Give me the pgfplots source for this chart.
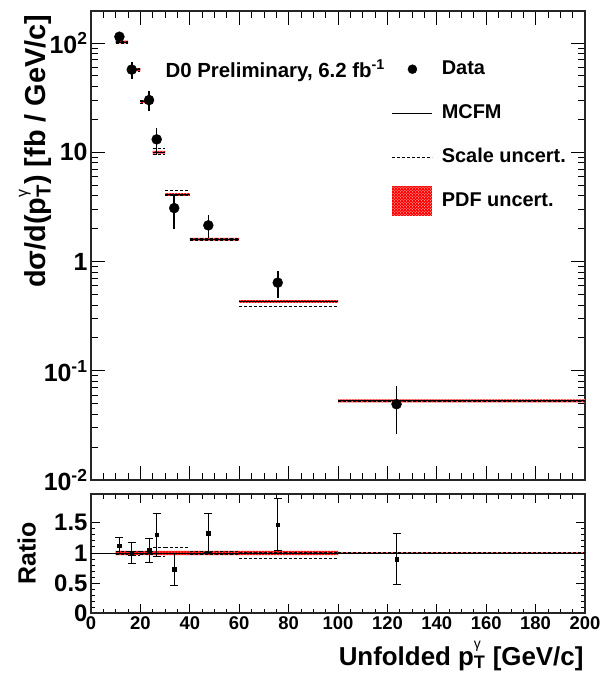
\documentclass[border=0pt]{standalone}
\usepackage{fontspec}
\setmainfont{Liberation Sans}
\usepackage{pgfplots}
\usepackage{pgfplotstable}
\pgfplotsset{compat=1.18}
\usetikzlibrary{patterns}

\newcommand{\fs}[1]{\fontsize{#1}{#1}\selectfont\bfseries}
% p_T^gamma, gamma raised above the subscript
\newcommand{\ptg}[1]{p\makebox[0pt][l]{\raisebox{0.62em}{\normalfont\fontsize{#1}{#1}\selectfont γ}}\textsubscript{T}}

% MCFM prediction per bin, with scale variation (segments split by nan)
\pgfplotstableread{
x mc up dn
10 102 104.0 100.0
15 102 104.0 100.0
nan nan nan nan
15 57 58.1 54.7
20 57 58.1 54.7
nan nan nan nan
20 29 29.9 28.1
25 29 29.9 28.1
nan nan nan nan
25 10 10.9 9.5
30 10 10.9 9.5
nan nan nan nan
30 4.1 4.47 4.06
40 4.1 4.47 4.06
nan nan nan nan
40 1.6 1.63 1.57
60 1.6 1.63 1.57
nan nan nan nan
60 0.43 0.434 0.391
100 0.43 0.434 0.391
nan nan nan nan
100 0.053 0.0535 0.0525
200 0.053 0.0535 0.0525
}\mcfm

% PDF band as rectangles
\pgfplotstableread{
x y
10 98.9
15 98.9
15 105.1
10 105.1
nan nan
15 55.3
20 55.3
20 58.7
15 58.7
nan nan
20 28.1
25 28.1
25 29.9
20 29.9
nan nan
25 9.7
30 9.7
30 10.3
25 10.3
nan nan
30 3.98
40 3.98
40 4.22
30 4.22
nan nan
40 1.552
60 1.552
60 1.648
40 1.648
nan nan
60 0.417
100 0.417
100 0.443
60 0.443
nan nan
100 0.0514
200 0.0514
200 0.0546
100 0.0546
}\pdfband

\pgfplotstableread{
x y ey
11.5 114 13
16.5 57 10
23.5 30 6
26.6 13.1 3.6
33.7 3.08 1.1
47.5 2.14 0.5
75.6 0.64 0.18
123.7 0.0494 0.023
}\data

% ratio panel
\pgfplotstableread{
x up dn
10 1.02 0.98
15 1.02 0.98
nan nan nan
15 1.02 0.96
20 1.02 0.96
nan nan nan
20 1.03 0.97
25 1.03 0.97
nan nan nan
25 1.09 0.95
30 1.09 0.95
nan nan nan
30 1.09 0.99
40 1.09 0.99
nan nan nan
40 1.02 0.98
60 1.02 0.98
nan nan nan
60 1.01 0.91
100 1.01 0.91
nan nan nan
100 1.01 0.99
200 1.01 0.99
}\rscale

\pgfplotstableread{
x y
10 0.965
100 0.965
100 1.035
10 1.035
nan nan
100 0.99
200 0.99
200 1.01
100 1.01
}\rpdf

\pgfplotstableread{
x r er
11.5 1.12 0.13
16.5 1.00 0.17
23.5 1.04 0.20
26.6 1.30 0.36
33.7 0.73 0.27
47.5 1.33 0.32
75.6 1.47 0.43
123.7 0.90 0.43
}\ratio

\pgfplotsset{
  d0/.style={
    scale only axis, width=494bp,
    xmin=0, xmax=200,
    xtick={0,20,...,200}, minor x tick num=3,
    axis line style={line width=1.2pt, black!85},
    every tick/.style={line width=0.8pt, black},
    unbounded coords=jump,
  },
  pdfstyle/.style={draw=none, fill=red, postaction={pattern=crosshatch dots, pattern color=white}, forget plot},
}

\begin{document}
\begin{tikzpicture}
\begin{axis}[d0,
  at={(0,133bp)}, anchor=south west, height=469bp,
  ymode=log, ymin=0.01, ymax=196,
  xticklabels={},
  ytick={0.01,0.1,1,10,100},
  yticklabels={10\textsuperscript{-2},10\textsuperscript{-1},1,10,10\textsuperscript{2}},
  minor ytick={0.02,0.03,0.04,0.05,0.06,0.07,0.08,0.09,0.2,0.3,0.4,0.5,0.6,0.7,0.8,0.9,2,3,4,5,6,7,8,9,20,30,40,50,60,70,80,90,200},
  yticklabel style={font=\fs{25}},
  major tick length=14bp, minor tick length=7bp,
  ylabel={dσ/d(\ptg{16}) [fb / GeV/c]},
  ylabel style={at={(axis description cs:-0.113,1)}, anchor=east, font=\fs{29}},
  legend cell align=left,
  legend style={at={(axis description cs:0.609,0.8955)}, anchor=north west,
    draw=none, fill=none, inner sep=0pt, row sep=26bp, column sep=9bp,
    nodes={inner sep=0pt, text height=14bp, text depth=4bp, font=\fs{20}}},
]
\addlegendimage{legend image code/.code={\fill[black] (20bp,0bp) circle (4.5bp); \path[draw=none, fill=none] (0bp,0bp) -- (40bp,0bp);}}
\addlegendentry{Data}
\addlegendimage{legend image code/.code={\draw[black, line width=0.8pt] (0bp,0bp) -- (40bp,0bp);}}
\addlegendentry{MCFM}
\addlegendimage{legend image code/.code={\draw[black, line width=0.8pt, dash pattern=on 3bp off 2bp] (0bp,0bp) -- (40bp,0bp);}}
\addlegendentry{Scale uncert.}
\addlegendimage{legend image code/.code={\fill[red, draw=none, overlay] (0bp,-15bp) rectangle (40bp,15bp); \fill[overlay, draw=none, pattern=crosshatch dots, pattern color=white] (0bp,-15bp) rectangle (40bp,15bp); \path[draw=none, fill=none] (0bp,-9bp) rectangle (40bp,9bp);}}
\addlegendentry{PDF uncert.}

\addplot[pdfstyle] table[x=x, y=y] {\pdfband};
\addplot[black, line width=0.8pt, dash pattern=on 3bp off 2bp, forget plot] table[x=x, y=up] {\mcfm};
\addplot[black, line width=0.8pt, dash pattern=on 3bp off 2bp, forget plot] table[x=x, y=dn] {\mcfm};
\addplot[black, line width=0.8pt, forget plot] table[x=x, y=mc] {\mcfm};
\addplot[black, only marks, mark=*, mark size=5bp, forget plot,
  error bars/.cd, y dir=both, y explicit, error mark=none,
  error bar style={line width=1.6pt}]
  table[x=x, y=y, y error=ey] {\data};

\node[anchor=base west, font=\fs{20.5}] at (axis description cs:0.1437,0.859) {D0 Preliminary, 6.2 fb\textsuperscript{-1}};
\end{axis}

\begin{axis}[d0,
  at={(0,0)}, anchor=south west, height=119bp,
  ymin=0, ymax=1.98,
  xticklabels={0,20,40,60,80,100,120,140,160,180,200},
  ytick={0,0.5,1,1.5}, yticklabels={0,0.5,1,1.5}, minor y tick num=4,
  major tick length=9bp, minor tick length=4.5bp,
  xticklabel style={font=\fs{18.5}},
  yticklabel style={font=\fs{24}},
  xlabel={Unfolded \ptg{14} [GeV/c]},
  xlabel style={at={(axis description cs:1.004,0)}, anchor=base east, yshift=-52bp, font=\fs{26}},
  ylabel={Ratio},
  ylabel style={at={(axis description cs:-0.13,0.5)}, anchor=center, font=\fs{25}},
]
\addplot[pdfstyle] table[x=x, y=y] {\rpdf};
\addplot[black, line width=0.8pt, dash pattern=on 3bp off 2bp, forget plot] table[x=x, y=up] {\rscale};
\addplot[black, line width=0.8pt, dash pattern=on 3bp off 2bp, forget plot] table[x=x, y=dn] {\rscale};
\addplot[black, line width=0.8pt, forget plot] coordinates {(0,1) (200,1)};
\addplot[black, only marks, mark=square*, mark size=1.8bp, forget plot,
  error bars/.cd, y dir=both, y explicit,
  error mark options={rotate=90, mark size=4bp, line width=0.8pt},
  error bar style={line width=0.8pt}]
  table[x=x, y=r, y error=er] {\ratio};
\end{axis}

\pgfresetboundingbox
\path[use as bounding box] (-91bp,-75bp) rectangle (520bp,613bp);
\end{tikzpicture}
\end{document}
